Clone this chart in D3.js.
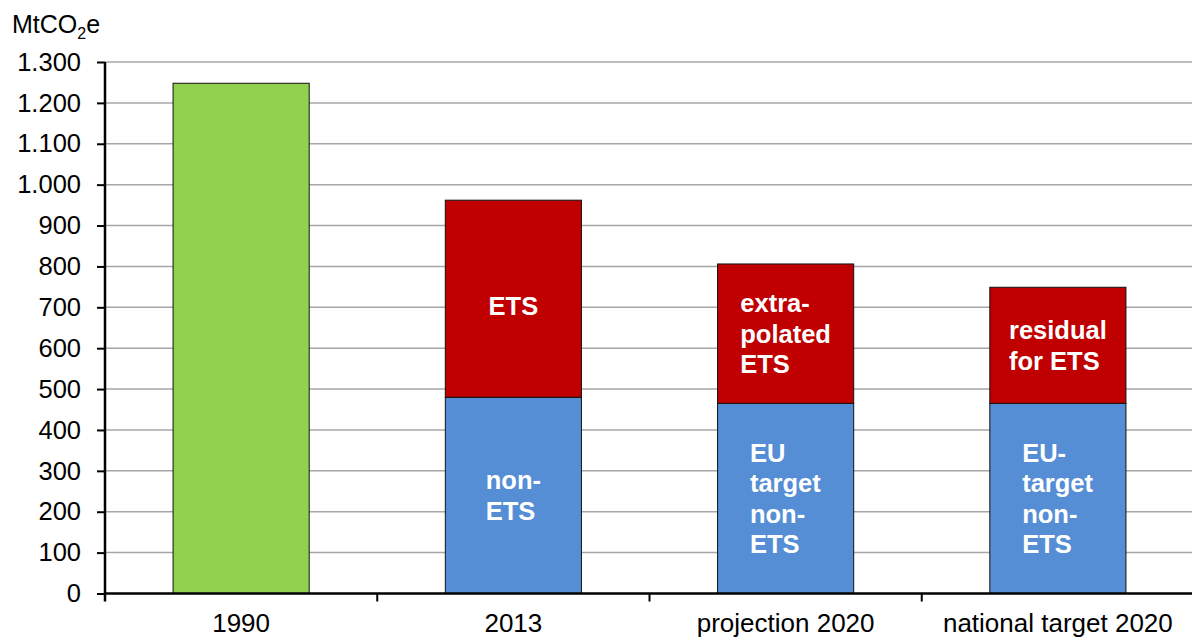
<!DOCTYPE html>
<html>
<head>
<meta charset="utf-8">
<script src="https://cdn.jsdelivr.net/npm/d3@7"></script>
<style>
  body { margin: 0; background: #fff; }
  svg { display: block; font-family: "Liberation Sans", Arial, sans-serif; }
</style>
</head>
<body>
<div id="chart"></div>
<script>
// categories and series (MtCO2e)
const categories = ["1990", "2013", "projection 2020", "national target 2020"];
const totalValues = [1248, null, null, null];
const nonEtsValues = [null, 480, 465, 465];
const etsValues = [null, 482, 341, 284];
const nonEtsLabels = [null, ["non-", "ETS"], ["EU", "target", "non-", "ETS"], ["EU-", "target", "non-", "ETS"]];
const etsLabels = [null, ["ETS"], ["extra-", "polated", "ETS"], ["residual", "for ETS"]];
const yTicks = [0, 100, 200, 300, 400, 500, 600, 700, 800, 900, 1000, 1100, 1200, 1300];

const width = 1192, height = 639;
const margin = { top: 62, right: -2, bottom: 45.5, left: 105 };

const svg = d3.select('#chart')
    .append('svg')
    .attr('width', width)
    .attr('height', height);

const x = d3.scaleBand()
    .domain(categories)
    .range([margin.left, width - margin.right])
    .paddingInner(0.5)
    .paddingOuter(0.25);

const y = d3.scaleLinear()
    .domain([0, 1300])
    .range([height - margin.bottom, margin.top]);

// gridlines
svg.append('g')
    .selectAll('line')
    .data(yTicks.filter(d => d > 0))
    .join('line')
    .attr('x1', margin.left)
    .attr('x2', width)
    .attr('y1', d => y(d))
    .attr('y2', d => y(d))
    .attr('stroke', '#a6a6a6')
    .attr('stroke-width', 1.5);

// bars
const barsG = svg.append('g');

function drawSegment(i, y0, y1, color) {
    barsG.append('rect')
        .attr('x', x(categories[i]))
        .attr('width', x.bandwidth())
        .attr('y', y(y1))
        .attr('height', y(y0) - y(y1))
        .attr('fill', color)
        .attr('stroke', '#111')
        .attr('stroke-width', 1);
}

function drawLabel(i, y0, y1, lines, nudge) {
    const lh = 30.5;
    const cx = x(categories[i]) + x.bandwidth() / 2;
    const cy = (y(y0) + y(y1)) / 2 + (nudge || 0);
    const t = barsG.append('text')
        .attr('fill', '#fff')
        .attr('font-weight', 'bold')
        .attr('font-size', 25.5);
    lines.forEach((s, k) => {
        t.append('tspan')
            .attr('x', cx)
            .attr('y', cy + 9 + (k - (lines.length - 1) / 2) * lh)
            .text(s);
    });
    // left-aligned block, centred in bar
    const w = t.node().getBBox().width;
    t.selectAll('tspan').attr('x', cx - w / 2);
}

categories.forEach((c, i) => {
    if (totalValues[i] != null) {
        drawSegment(i, 0, totalValues[i], '#92d050');
    }
    if (nonEtsValues[i] != null) {
        const top = nonEtsValues[i] + etsValues[i];
        drawSegment(i, 0, nonEtsValues[i], '#558ed5');
        drawSegment(i, nonEtsValues[i], top, '#c00000');
        drawLabel(i, 0, nonEtsValues[i], nonEtsLabels[i]);
        drawLabel(i, nonEtsValues[i], top, etsLabels[i], etsLabels[i].length === 1 ? 7 : 0);
    }
});

// y axis
const yAxis = d3.axisLeft(y)
    .tickValues(yTicks)
    .tickSize(8)
    .tickPadding(16)
    .tickFormat(d => d3.format(',')(d).replace(/,/g, '.'));

const yAxisG = svg.append('g')
    .attr('transform', `translate(${margin.left},0)`)
    .call(yAxis);
yAxisG.select('.domain').remove();
yAxisG.selectAll('line').attr('stroke', '#000').attr('stroke-width', 2);
yAxisG.selectAll('text')
    .attr('font-size', 25.5)
    .attr('fill', '#000')
    .attr('font-family', '"Liberation Sans", Arial, sans-serif');

svg.append('line')
    .attr('x1', margin.left).attr('x2', margin.left)
    .attr('y1', y(1300)).attr('y2', y(0) + 8)
    .attr('stroke', '#000').attr('stroke-width', 2.5);

// x axis
const step = x.step();
const xAxisG = svg.append('g');
xAxisG.append('line')
    .attr('x1', margin.left).attr('x2', width)
    .attr('y1', y(0)).attr('y2', y(0))
    .attr('stroke', '#000').attr('stroke-width', 2.5);
xAxisG.selectAll('.sep')
    .data(categories.slice(1))
    .join('line')
    .attr('class', 'sep')
    .attr('x1', d => x(d) - step * 0.25)
    .attr('x2', d => x(d) - step * 0.25)
    .attr('y1', y(0))
    .attr('y2', y(0) + 8)
    .attr('stroke', '#000').attr('stroke-width', 2);
xAxisG.selectAll('.cat')
    .data(categories)
    .join('text')
    .attr('class', 'cat')
    .attr('x', d => x(d) + x.bandwidth() / 2)
    .attr('y', 632)
    .attr('text-anchor', 'middle')
    .attr('font-size', 26)
    .attr('fill', '#000')
    .text(d => d);

// unit label
const unit = svg.append('text')
    .attr('x', 12)
    .attr('y', 33)
    .attr('font-size', 25)
    .attr('fill', '#000');
unit.append('tspan').text('MtCO');
unit.append('tspan').attr('font-size', 16).attr('dy', 6).text('2');
unit.append('tspan').attr('dy', -6).text('e');
</script>
</body>
</html>
